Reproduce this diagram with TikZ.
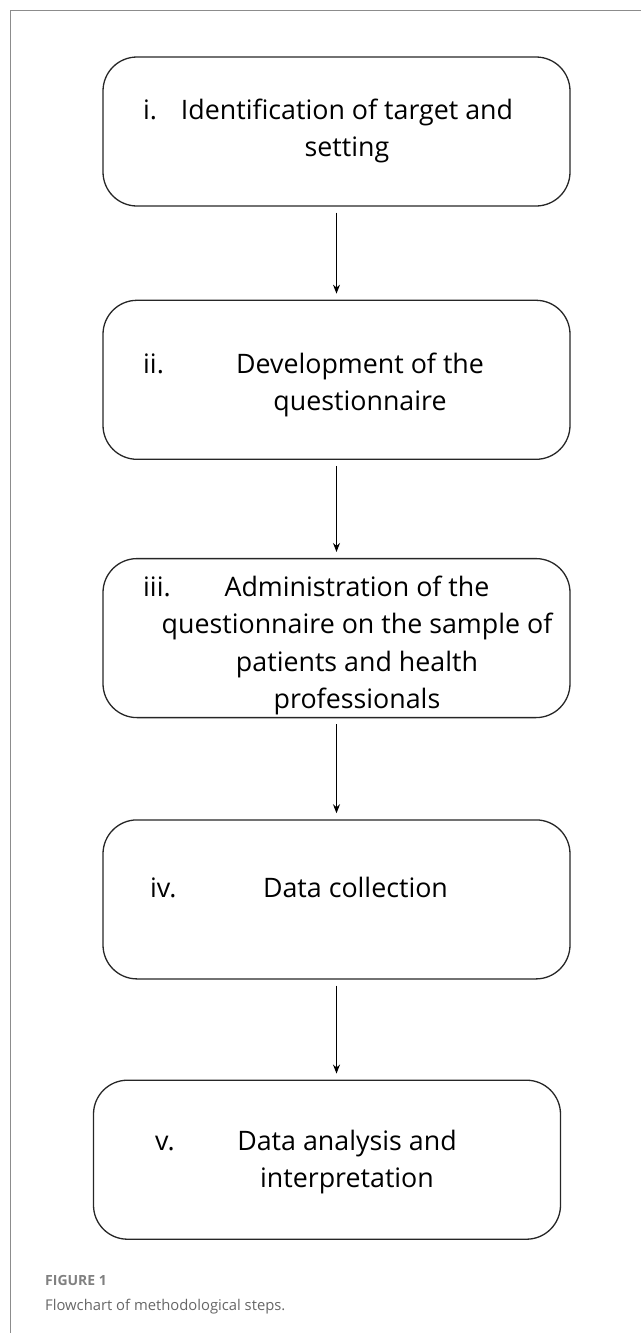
\documentclass[tikz,border=0pt]{standalone}
\usepackage{fontspec}
\setmainfont{Open Sans}
\newfontfamily\capfont{Open Sans}
\usetikzlibrary{arrows.meta, positioning}

\begin{document}
\begin{tikzpicture}[x=1pt, y=-1pt,
  stepbox/.style={draw=black!85, line width=1.3pt, rounded corners=34pt, minimum width=467pt, minimum height=159pt, inner sep=0pt},
  lbl/.style={anchor=base west, inner sep=0pt, font=\fontsize{26.8}{37.5}\selectfont},
  txt/.style={anchor=base, align=center, inner sep=0pt, font=\fontsize{26.8}{37.5}\selectfont},
  arr/.style={-{Stealth[length=9pt,width=7pt]}, line width=1.1pt, shorten <=6pt, shorten >=6pt}]
  \useasboundingbox (0,0) rectangle (641,1333);
  % frame of the figure
  \draw[black!45, line width=0.9pt] (10,1333) -- (10,10) -- (641,10);

  % the five steps
  \node[stepbox, minimum height=149pt](b1) at (336.5,131.5) {};
  \node[stepbox, below=93pt of b1](b2) {};
  \node[stepbox, below=98pt of b2](b3) {};
  \node[stepbox, below=101pt of b3](b4) {};
  \node[stepbox, below=100pt of b4, xshift=-9.5pt](b5) {};

  % text: base anchor sits on the last line
  \node[lbl](n1) at (143,119) {i.};
  \node[txt](t1) at (347,156.5) {Identification of target and\\setting};
  \node[lbl](n2) at (143,373) {ii.};
  \node[txt](t2) at (360,410.5) {Development of the\\questionnaire};
  \node[lbl](n3) at (143,596) {iii.};
  \node[txt](t3) at (357,708.5) {Administration of the\\questionnaire on the sample of\\patients and health\\professionals};
  \node[lbl](n4) at (150,897) {iv.};
  \node[txt](t4) at (355.5,897) {Data collection};
  \node[lbl](n5) at (155,1150) {v.};
  \node[txt](t5) at (347,1187.5) {Data analysis and\\interpretation};

  \draw[arr](b1)--(b2);
  \draw[arr](b2)--(b3);
  \draw[arr](b3)--(b4);
  \draw[arr](b4.south)--(b4.south |- b5.north);

  % caption
  \node[anchor=base west, inner sep=0pt, text=black!50, font=\capfont\bfseries\fontsize{14}{16}\selectfont](fig) at (45,1285) {FIGURE 1};
  \node[anchor=base west, inner sep=0pt, text=black!60, font=\capfont\fontsize{14.8}{18}\selectfont](cap) at (45,1310) {Flowchart of methodological steps.};
\end{tikzpicture}
\end{document}
